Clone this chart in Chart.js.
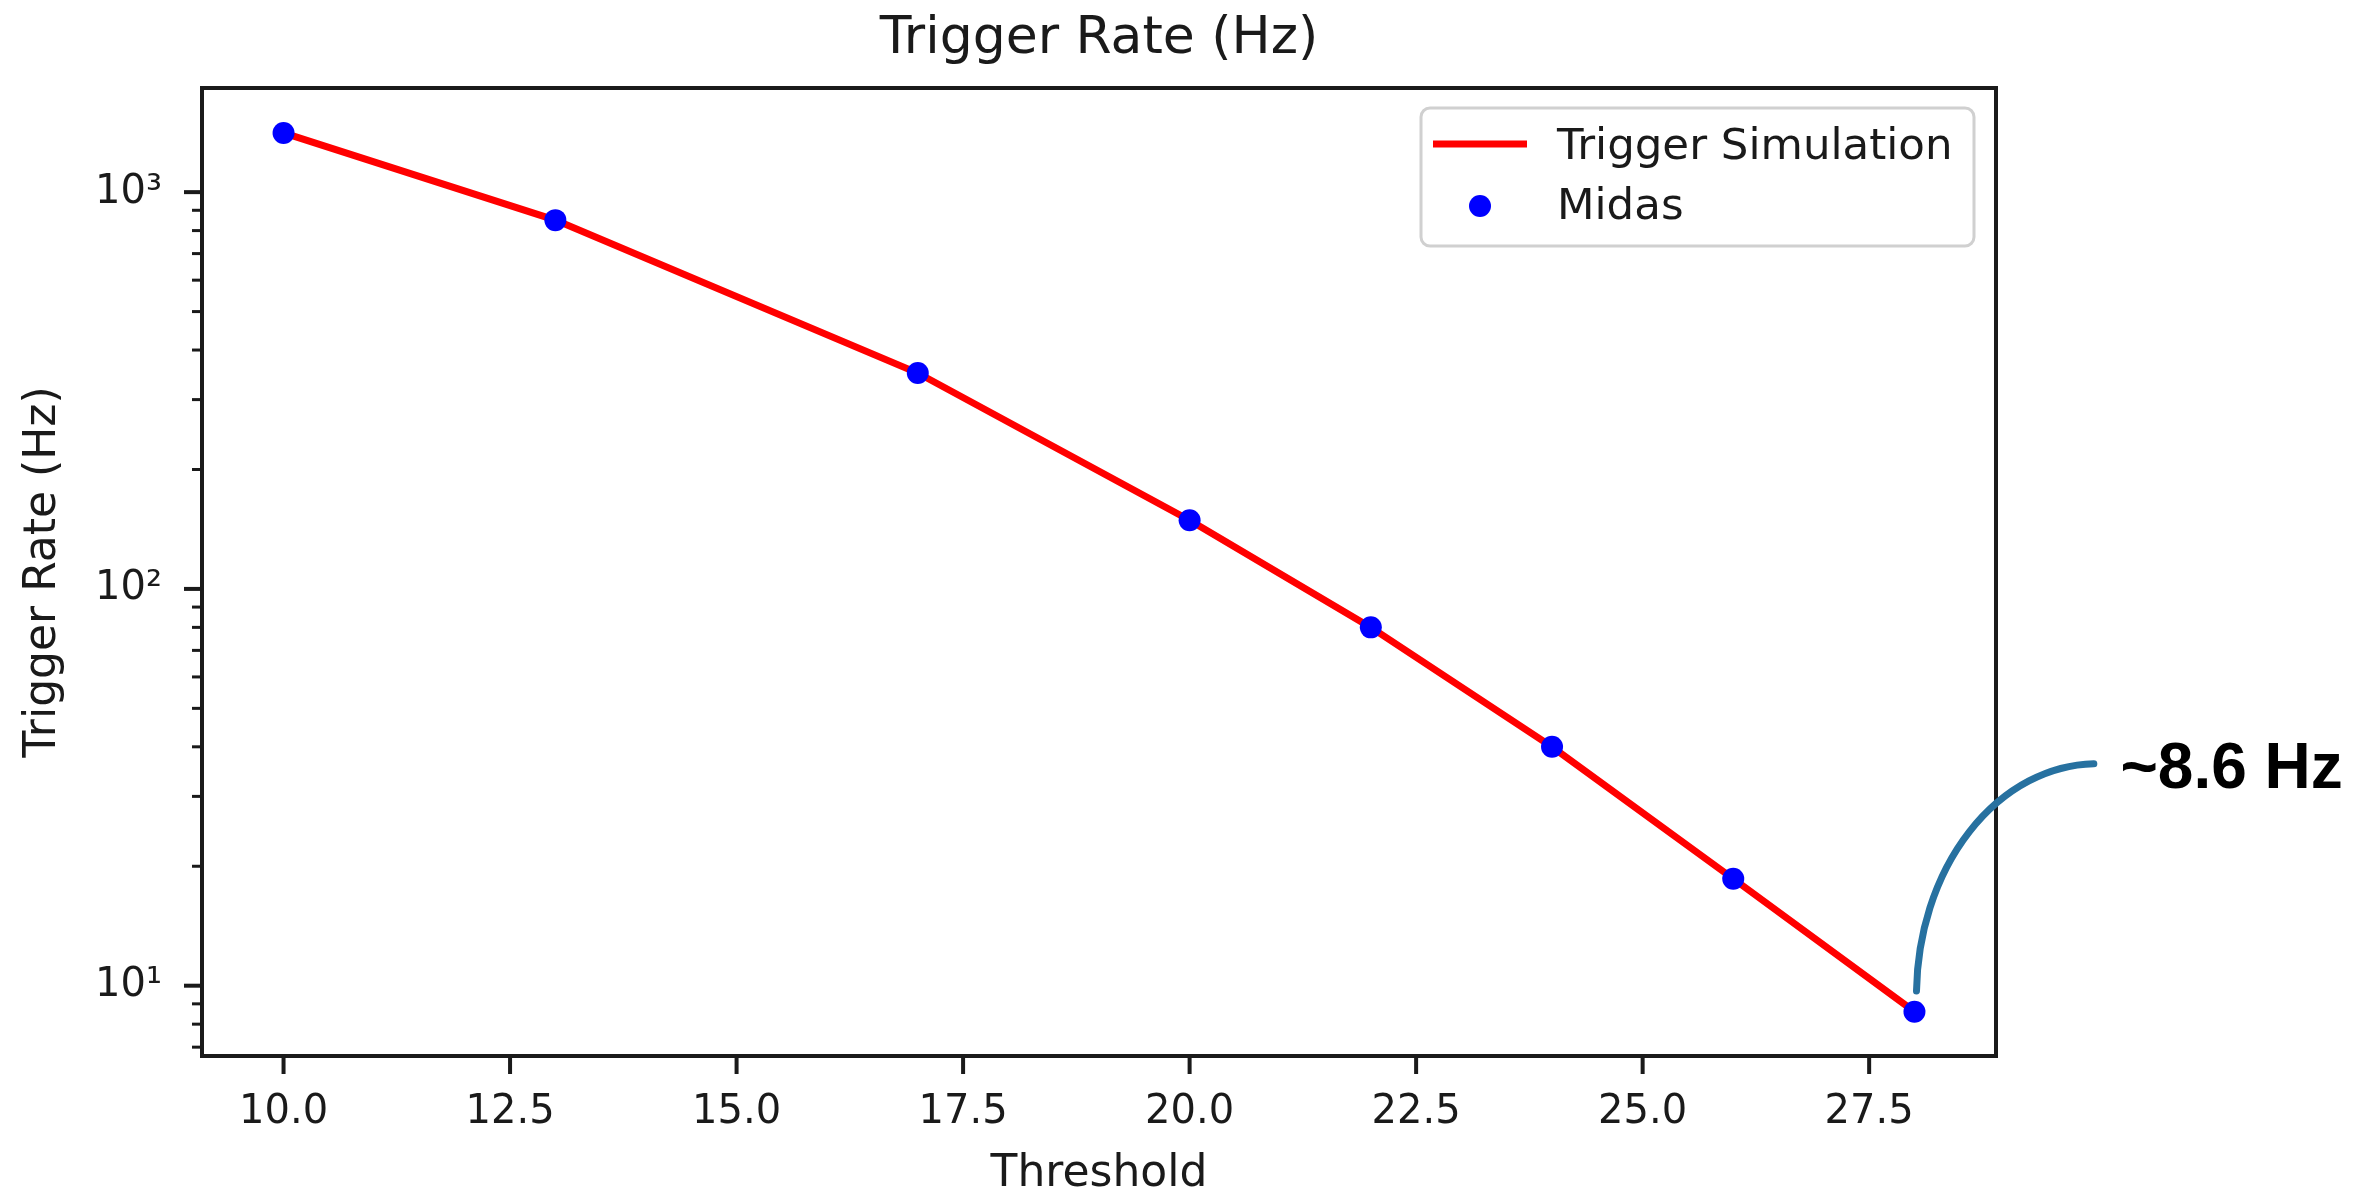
<!DOCTYPE html>
<html>
<head>
<meta charset="utf-8">
<title>Trigger Rate (Hz)</title>
<script src="https://cdn.jsdelivr.net/npm/chart.js@4.4.1/dist/chart.umd.min.js"></script>
<style>
    html, body { margin: 0; padding: 0; background: #fff; }
    #chart_canvas { display: block; }
</style>
</head>
<body>
<canvas id="chart_canvas" width="2378" height="1190"></canvas>
<script>

var thresholds = [10, 13, 17, 20, 22, 24, 26, 28];
var simRate = [1410, 850, 350, 149, 80, 40, 18.6, 8.6];
var midasRate = [1410, 850, 350, 149, 80, 40, 18.6, 8.6];

var xTicks = [10, 12.5, 15, 17.5, 20, 22.5, 25, 27.5];
var yTicks = [7, 8, 9, 10, 20, 30, 40, 50, 60, 70, 80, 90,
              100, 200, 300, 400, 500, 600, 700, 800, 900, 1000];
var yLabels = { 10: '10\u00b9', 100: '10\u00b2', 1000: '10\u00b3' };

var textColor = '#1a1a1a';
var fontFamily = 'DejaVu Sans';

function points(ys) {
    return thresholds.map(function (x, i) { return { x: x, y: ys[i] }; });
}

// box round the plot + matplotlib style outward ticks
var axesFrame = {
    id: 'axesFrame',
    afterDatasetsDraw: function (chart) {
        var ctx = chart.ctx;
        var a = chart.chartArea;
        var xs = chart.scales.x;
        var ys = chart.scales.y;
        ctx.save();
        ctx.strokeStyle = textColor;
        ctx.lineWidth = 4;
        ctx.strokeRect(a.left, a.top, a.right - a.left, a.bottom - a.top);

        xs.ticks.forEach(function (t) {
            var px = xs.getPixelForValue(t.value);
            ctx.beginPath();
            ctx.moveTo(px, a.bottom);
            ctx.lineTo(px, a.bottom + 18);
            ctx.stroke();
        });
        ys.ticks.forEach(function (t) {
            var major = yLabels[t.value] !== undefined;
            var py = ys.getPixelForValue(t.value);
            ctx.lineWidth = major ? 4 : 3;
            ctx.beginPath();
            ctx.moveTo(a.left, py);
            ctx.lineTo(a.left - (major ? 18 : 10), py);
            ctx.stroke();
        });
        ctx.restore();
    }
};

// legend box in the upper right corner of the plot
var boxLegend = {
    id: 'boxLegend',
    afterDraw: function (chart) {
        var ctx = chart.ctx;
        var a = chart.chartArea;
        var sim = chart.data.datasets[0];
        var mid = chart.data.datasets[1];
        var w = 553, h = 138;
        var left = a.right - 22 - w;
        var top = a.top + 20;

        ctx.save();
        ctx.beginPath();
        ctx.roundRect(left, top, w, h, 9);
        ctx.fillStyle = 'rgba(255,255,255,0.8)';
        ctx.fill();
        ctx.lineWidth = 3;
        ctx.strokeStyle = '#d0d0d0';
        ctx.stroke();

        ctx.strokeStyle = sim.borderColor;
        ctx.lineWidth = sim.borderWidth;
        ctx.beginPath();
        ctx.moveTo(left + 12, top + 36);
        ctx.lineTo(left + 106, top + 36);
        ctx.stroke();

        ctx.fillStyle = mid.pointBackgroundColor;
        ctx.beginPath();
        ctx.arc(left + 59, top + 98, mid.pointRadius, 0, Math.PI * 2);
        ctx.fill();

        ctx.fillStyle = textColor;
        ctx.font = '43.5px "' + fontFamily + '"';
        ctx.textBaseline = 'alphabetic';
        ctx.textAlign = 'left';
        ctx.fillText(sim.label, left + 136, top + 51);
        ctx.fillText(mid.label, left + 136, top + 111);
        ctx.restore();
    }
};

// hand drawn arrow pointing at the last Midas point, with its value
var lastPointNote = {
    id: 'lastPointNote',
    afterDraw: function (chart) {
        var ctx = chart.ctx;
        var n = thresholds.length - 1;
        var px = chart.scales.x.getPixelForValue(thresholds[n]);
        var py = chart.scales.y.getPixelForValue(midasRate[n]);

        ctx.save();
        ctx.strokeStyle = '#2771a0';
        ctx.lineWidth = 7;
        ctx.lineCap = 'round';
        ctx.beginPath();
        ctx.ellipse(px + 183, py - 16, 181, 232, 0, Math.PI + 0.02, Math.PI * 1.5 - 0.02);
        ctx.stroke();

        ctx.fillStyle = '#000';
        ctx.font = 'bold 64px "Liberation Sans"';
        ctx.textAlign = 'left';
        ctx.textBaseline = 'alphabetic';
        ctx.fillText('~' + midasRate[n] + ' Hz', px + 206, py - 224);
        ctx.restore();
    }
};

var ctx = document.getElementById('chart_canvas').getContext('2d');

var chart = new Chart(ctx, {
    type: 'line',
    data: {
        datasets: [
            {
                label: 'Trigger Simulation',
                data: points(simRate),
                borderColor: '#ff0000',
                borderWidth: 7,
                pointRadius: 0,
                tension: 0,
                fill: false,
                order: 2
            },
            {
                label: 'Midas',
                data: points(midasRate),
                showLine: false,
                pointRadius: 11,
                pointBackgroundColor: '#0000ff',
                pointBorderColor: '#0000ff',
                pointBorderWidth: 0,
                order: 1
            }
        ]
    },
    options: {
        responsive: false,
        animation: false,
        devicePixelRatio: 1,
        layout: {
            padding: { left: 0, right: 382, top: 0, bottom: 0 }
        },
        plugins: {
            legend: { display: false },
            tooltip: { enabled: false },
            title: {
                display: true,
                fullSize: false,
                text: 'Trigger Rate (Hz)',
                color: textColor,
                font: { family: fontFamily, size: 52, weight: 'normal', lineHeight: 1.2 },
                padding: { top: 8, bottom: 17.6 }
            }
        },
        scales: {
            x: {
                type: 'linear',
                min: 9.1,
                max: 28.9,
                bounds: 'data',
                grid: { display: false, drawTicks: false },
                border: { display: false },
                afterBuildTicks: function (scale) {
                    scale.ticks = xTicks.map(function (v) { return { value: v }; });
                },
                afterFit: function (scale) {
                    scale.height = 134;
                },
                ticks: {
                    autoSkip: false,
                    maxRotation: 0,
                    padding: 33,
                    color: textColor,
                    font: { family: fontFamily, size: 40 },
                    callback: function (v) { return v.toFixed(1); }
                },
                title: {
                    display: true,
                    text: 'Threshold',
                    color: textColor,
                    font: { family: fontFamily, size: 44, lineHeight: 0.7 },
                    padding: 0
                }
            },
            y: {
                type: 'logarithmic',
                min: 6.65,
                max: 1830,
                bounds: 'data',
                grid: { display: false, drawTicks: false },
                border: { display: false },
                afterBuildTicks: function (scale) {
                    scale.ticks = yTicks.map(function (v) { return { value: v }; });
                },
                afterFit: function (scale) {
                    scale.width = 202;
                },
                ticks: {
                    autoSkip: false,
                    padding: 40,
                    color: textColor,
                    font: { family: fontFamily, size: 40 },
                    callback: function (v) { return yLabels[v] || ''; }
                },
                title: {
                    display: true,
                    text: 'Trigger Rate (Hz)',
                    color: textColor,
                    font: { family: fontFamily, size: 44, lineHeight: 1.2 },
                    padding: { top: 17, bottom: 0 }
                }
            }
        }
    },
    plugins: [axesFrame, boxLegend, lastPointNote]
});

</script>
</body>
</html>
